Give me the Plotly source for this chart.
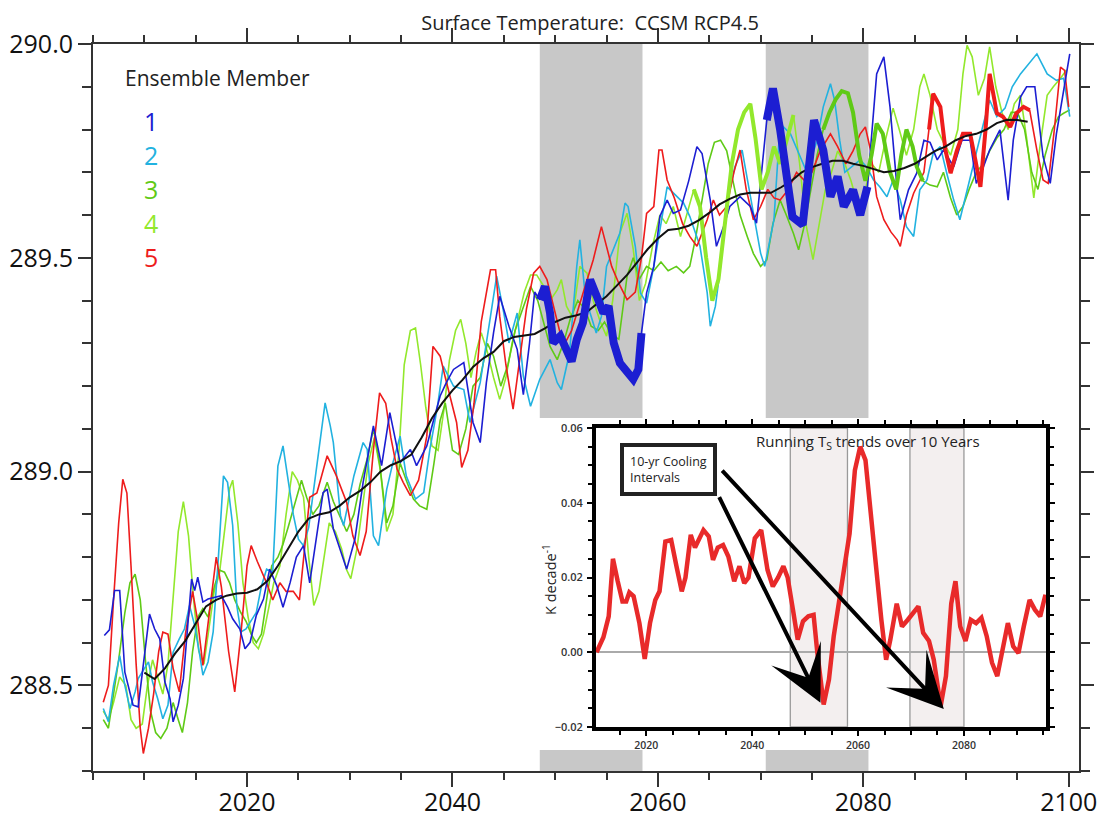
import plotly.graph_objects as go

# ---------------- data: ensemble members (year, surface temperature K) ----------------
m1_years = [2006.1, 2006.6, 2007.1, 2007.6, 2008.1, 2008.9, 2009.4, 2010.0, 2010.5, 2011.0, 2011.5, 2012.0,
            2012.5, 2012.8, 2013.3, 2013.8, 2014.3, 2014.6, 2014.9, 2015.2, 2015.7, 2016.2, 2017.5, 2018.1,
            2018.6, 2019.3, 2019.8, 2020.3, 2020.9, 2021.6, 2022.2, 2022.9, 2023.5, 2024.2, 2024.8, 2025.5,
            2026.1, 2026.8, 2027.4, 2027.8, 2028.4, 2029.7, 2030.5, 2031.3, 2032.3, 2033.1, 2033.9, 2034.9,
            2035.9, 2036.5, 2037.5, 2038.1, 2038.8, 2039.4, 2040.1, 2041.1, 2042.0, 2042.7, 2043.3, 2044.0,
            2044.6, 2045.5, 2046.3, 2046.9, 2047.5, 2048.0, 2048.5, 2049.0, 2049.5, 2049.8, 2050.5, 2051.0,
            2051.6, 2052.1, 2052.7, 2053.4, 2054.0, 2054.7, 2055.2, 2055.7, 2056.3, 2057.0, 2057.6, 2058.1,
            2058.4, 2058.9, 2059.6, 2060.2, 2060.9, 2061.5, 2062.2, 2063.0, 2063.8, 2064.3, 2065.1, 2065.7,
            2066.4, 2067.0, 2068.0, 2069.0, 2069.6, 2070.6, 2071.2, 2071.9, 2072.6, 2073.1, 2074.1, 2074.6,
            2075.2, 2076.1, 2076.8, 2077.5, 2078.1, 2079.0, 2079.7, 2080.4, 2080.8, 2081.3, 2082.0, 2082.6,
            2083.3, 2083.6, 2084.4, 2085.2, 2085.9, 2086.5, 2087.2, 2087.8, 2088.8, 2089.6, 2090.4, 2091.0,
            2091.7, 2092.3, 2093.3, 2094.1, 2094.6, 2095.3, 2095.9, 2096.7, 2097.5, 2098.2, 2098.8, 2099.5,
            2100.1]
m1_vals = [288.617, 288.63, 288.722, 288.722, 288.531, 288.454, 288.45, 288.57, 288.667, 288.632, 288.609, 288.508,
           288.469, 288.415, 288.454, 288.516, 288.656, 288.749, 288.722, 288.753, 288.695, 288.702, 288.71, 288.683,
           288.656, 288.632, 288.586, 288.601, 288.664, 288.702, 288.772, 288.733, 288.683, 288.741, 288.80, 288.827,
           288.74, 288.85, 288.951, 288.959, 288.866, 288.772, 288.842, 288.975, 289.107, 289.014, 289.138, 289.021,
           289.052, 289.014, 289.06, 289.115, 289.177, 289.208, 289.239, 289.255, 289.115, 289.068, 289.208, 289.325,
           289.41, 289.34, 289.286, 289.18, 289.30, 289.42, 289.402, 289.433, 289.371, 289.301, 289.317, 289.293,
           289.258, 289.309, 289.348, 289.449, 289.41, 289.371, 289.387, 289.301, 289.254, 289.231, 289.216, 289.239,
           289.324, 289.418, 289.48, 289.597, 289.635, 289.604, 289.612, 289.68, 289.76, 289.744, 289.635, 289.527,
           289.573, 289.62, 289.643, 289.62, 289.581, 289.822, 289.896, 289.80, 289.682, 289.596, 289.577, 289.682,
           289.822, 289.752, 289.643, 289.69, 289.62, 289.659, 289.60, 289.666, 289.775, 289.93, 289.97, 289.853,
           289.659, 289.589, 289.659, 289.698, 289.775, 289.77, 289.729, 289.752, 289.713, 289.775, 289.775, 289.674,
           289.713, 289.752, 289.799, 289.635, 289.775, 289.876, 289.90, 289.90, 289.737, 289.674, 289.79, 289.892,
           289.977]

m2_years = [2006.0, 2006.5, 2007.0, 2007.6, 2008.1, 2008.6, 2009.1, 2009.4, 2010.4, 2010.8, 2011.3, 2011.8,
            2012.3, 2012.8, 2013.4, 2013.9, 2014.4, 2014.9, 2015.4, 2015.7, 2016.2, 2016.7, 2017.2, 2017.7,
            2018.1, 2018.6, 2019.0, 2019.4, 2019.9, 2020.9, 2021.4, 2021.9, 2022.5, 2023.0, 2023.5, 2024.0,
            2024.5, 2025.0, 2025.5, 2026.0, 2026.8, 2027.6, 2028.1, 2028.4, 2029.1, 2029.4, 2030.4, 2031.3,
            2031.7, 2032.3, 2032.8, 2033.6, 2034.2, 2034.9, 2035.5, 2036.4, 2037.2, 2037.8, 2038.5, 2039.1,
            2040.1, 2041.1, 2041.7, 2042.7, 2043.7, 2044.3, 2045.0, 2045.5, 2046.3, 2046.9, 2047.6, 2048.5,
            2049.5, 2050.2, 2050.6, 2051.4, 2052.1, 2052.4, 2052.9, 2053.4, 2054.0, 2054.5, 2055.0, 2056.3,
            2056.8, 2057.1, 2057.8, 2058.3, 2058.9, 2059.6, 2060.9, 2062.5, 2063.1, 2064.1, 2064.8, 2065.1,
            2065.6, 2066.1, 2066.7, 2067.5, 2068.2, 2069.3, 2070.0, 2070.4, 2071.3, 2071.9, 2072.9, 2074.5,
            2075.5, 2076.1, 2076.8, 2077.2, 2077.7, 2078.2, 2079.7, 2080.3, 2081.0, 2081.6, 2082.3, 2082.9,
            2083.6, 2084.2, 2084.9, 2085.5, 2086.2, 2086.8, 2087.5, 2088.1, 2088.8, 2089.4, 2090.1, 2091.1,
            2091.7, 2092.3, 2093.0, 2093.8, 2094.5, 2095.3, 2096.9, 2097.9, 2098.8, 2099.5, 2100.1]
m2_vals = [288.446, 288.415, 288.50, 288.57, 288.50, 288.446, 288.485, 288.516, 288.555, 288.508, 288.469, 288.422,
           288.454, 288.578, 288.609, 288.632, 288.687, 288.64, 288.57, 288.524, 288.555, 288.625, 288.796, 288.99,
           288.975, 288.874, 288.687, 288.625, 288.632, 288.671, 288.733, 288.772, 288.765, 289.013, 289.06, 288.982,
           288.90, 288.842, 288.827, 288.87, 289.014, 289.161, 289.107, 289.068, 288.897, 288.874, 288.99, 289.068,
           289.052, 288.85, 288.827, 288.959, 289.021, 289.083, 288.99, 288.936, 288.951, 289.052, 289.146, 289.247,
           289.20, 289.192, 289.115, 289.208, 289.363, 289.457, 289.371, 289.301, 289.371, 289.223, 289.153, 289.216,
           289.262, 289.208, 289.192, 289.278, 289.48, 289.542, 289.418, 289.371, 289.324, 289.363, 289.48, 289.558,
           289.628, 289.62, 289.527, 289.418, 289.394, 289.48, 289.666, 289.628, 289.597, 289.527, 289.418, 289.34,
           289.387, 289.48, 289.628, 289.713, 289.752, 289.604, 289.511, 289.48, 289.589, 289.814, 289.79, 289.70,
           289.775, 289.853, 289.907, 289.869, 289.775, 289.70, 289.729, 289.713, 289.682, 289.666, 289.643, 289.682,
           289.635, 289.573, 289.55, 289.659, 289.682, 289.744, 289.76, 289.70, 289.635, 289.589, 289.659, 289.76,
           289.814, 289.869, 289.83, 289.85, 289.90, 289.93, 289.977, 289.93, 289.915, 289.92, 289.83]

m3_years = [2006.0, 2006.5, 2007.0, 2007.5, 2008.1, 2008.6, 2009.1, 2009.6, 2010.1, 2010.6, 2011.1, 2011.6,
            2012.2, 2012.8, 2013.3, 2013.7, 2014.2, 2014.7, 2015.2, 2015.7, 2016.2, 2016.8, 2017.3, 2017.8,
            2018.3, 2018.8, 2019.4, 2019.9, 2020.4, 2020.9, 2021.4, 2021.9, 2022.4, 2023.0, 2023.5, 2024.0,
            2024.6, 2025.3, 2025.8, 2026.4, 2027.0, 2027.8, 2028.4, 2029.1, 2029.7, 2030.4, 2031.0, 2031.7,
            2032.3, 2032.9, 2033.6, 2034.2, 2034.9, 2035.5, 2036.2, 2036.8, 2037.5, 2038.2, 2038.8, 2039.3,
            2040.0, 2040.6, 2041.3, 2042.0, 2042.7, 2043.4, 2044.0, 2044.7, 2045.4, 2046.1, 2046.8, 2047.6,
            2048.3, 2049.0, 2049.5, 2050.2, 2050.8, 2051.5, 2052.2, 2052.9, 2053.5, 2054.2, 2054.8, 2055.5,
            2056.2, 2057.0, 2057.6, 2058.2, 2058.9, 2059.6, 2060.3, 2061.0, 2061.8, 2062.5, 2063.1, 2063.7,
            2064.3, 2064.9, 2065.5, 2066.1, 2066.7, 2067.4, 2068.0, 2068.7, 2069.3, 2070.0, 2070.6, 2071.2,
            2071.9, 2072.5, 2073.2, 2073.7, 2074.3, 2074.9, 2075.5, 2076.1, 2076.7, 2077.3, 2077.9, 2078.5,
            2079.0, 2079.6, 2080.2, 2080.8, 2081.3, 2081.9, 2082.6, 2083.2, 2083.7, 2084.2, 2084.8, 2085.2,
            2085.8, 2086.5, 2087.2, 2087.8, 2088.5, 2089.1, 2089.7, 2090.3, 2091.0, 2091.7, 2092.3, 2093.0,
            2093.7, 2094.4, 2095.0, 2095.7, 2096.4, 2097.0, 2097.7, 2098.4, 2099.0, 2099.5, 2100.1]
m3_vals = [288.42, 288.40, 288.48, 288.56, 288.67, 288.74, 288.76, 288.70, 288.56, 288.44, 288.39, 288.376,
           288.40, 288.46, 288.42, 288.39, 288.46, 288.58, 288.66, 288.68, 288.66, 288.73, 288.77, 288.765,
           288.74, 288.70, 288.67, 288.65, 288.62, 288.60, 288.62, 288.70, 288.78, 288.80, 288.83, 288.87,
           288.92, 288.98, 288.94, 288.90, 288.92, 288.975, 288.93, 288.89, 288.86, 288.90, 288.97, 289.03,
           289.10, 289.02, 288.88, 288.92, 289.02, 288.98, 288.936, 288.92, 288.912, 289.02, 289.12, 289.16,
           289.05, 289.04, 289.10, 289.20, 289.22, 289.30, 289.27, 289.20, 289.25, 289.33, 289.38, 289.433,
           289.40, 289.34, 289.293, 289.262, 289.30, 289.36, 289.40, 289.38, 289.34, 289.33, 289.35, 289.32,
           289.31, 289.457, 289.50, 289.45, 289.48, 289.47, 289.49, 289.47, 289.48, 289.465, 289.48, 289.55,
           289.64, 289.72, 289.77, 289.775, 289.75, 289.67, 289.60, 289.55, 289.51, 289.48, 289.495, 289.58,
           289.635, 289.60, 289.557, 289.519, 289.58, 289.66, 289.74, 289.80, 289.84, 289.87, 289.89, 289.885,
           289.84, 289.74, 289.68, 289.74, 289.814, 289.79, 289.70, 289.66, 289.74, 289.80, 289.76, 289.713,
           289.68, 289.67, 289.666, 289.70, 289.64, 289.60, 289.62, 289.66, 289.70, 289.72, 289.75, 289.78,
           289.80, 289.84, 289.84, 289.80, 289.70, 289.66, 289.74, 289.80, 289.83, 289.838, 289.846]

m4_years = [2006.0, 2006.5, 2007.0, 2007.6, 2008.2, 2008.7, 2009.2, 2009.8, 2010.3, 2010.8, 2011.3, 2011.8,
            2012.3, 2012.8, 2013.3, 2013.8, 2014.3, 2014.8, 2015.3, 2015.8, 2016.3, 2016.8, 2017.3, 2017.8,
            2018.3, 2018.6, 2019.1, 2019.6, 2020.1, 2020.6, 2021.1, 2021.6, 2022.1, 2022.6, 2023.2, 2023.8,
            2024.4, 2024.9, 2025.5, 2026.0, 2026.5, 2027.0, 2027.5, 2028.0, 2028.6, 2029.2, 2029.7, 2030.1,
            2030.7, 2031.3, 2031.8, 2032.4, 2033.0, 2033.6, 2034.2, 2034.8, 2035.3, 2035.9, 2036.4, 2036.9,
            2037.4, 2038.0, 2038.6, 2039.2, 2039.7, 2040.3, 2040.8, 2041.3, 2041.8, 2042.3, 2042.8, 2043.4,
            2044.0, 2044.6, 2045.2, 2045.8, 2046.4, 2047.0, 2047.6, 2048.2, 2048.9, 2049.5, 2050.2, 2050.6,
            2051.1, 2051.7, 2052.4, 2053.1, 2053.7, 2054.4, 2055.0, 2055.6, 2056.3, 2057.0, 2057.6, 2058.2,
            2058.8, 2059.5, 2060.2, 2060.8, 2061.5, 2062.2, 2062.8, 2063.5, 2064.1, 2064.7, 2065.3, 2065.9,
            2066.5, 2067.2, 2067.8, 2068.4, 2069.0, 2069.5, 2070.1, 2070.7, 2071.3, 2071.9, 2072.6, 2073.2,
            2073.8, 2074.4, 2075.1, 2075.7, 2076.3, 2076.9, 2077.5, 2078.2, 2078.8, 2079.5, 2080.2, 2080.8,
            2081.5, 2082.2, 2082.9, 2083.5, 2084.2, 2084.9, 2085.5, 2085.9, 2086.5, 2087.2, 2087.8, 2088.5,
            2089.2, 2089.7, 2090.1, 2090.6, 2091.2, 2091.8, 2092.3, 2092.9, 2093.5, 2094.1, 2094.7, 2095.3,
            2095.9, 2096.6, 2097.2, 2097.9, 2098.5, 2099.2, 2099.8]
m4_vals = [288.44, 288.42, 288.46, 288.52, 288.50, 288.42, 288.40, 288.41, 288.50, 288.56, 288.52, 288.48,
           288.55, 288.70, 288.86, 288.93, 288.85, 288.70, 288.58, 288.55, 288.63, 288.72, 288.76, 288.86,
           288.96, 288.98, 288.88, 288.74, 288.66, 288.60, 288.586, 288.62, 288.68, 288.74, 288.78, 288.90,
           289.00, 288.98, 288.94, 288.80, 288.687, 288.72, 288.80, 288.88, 288.86, 288.82, 288.77, 288.75,
           288.82, 288.93, 289.02, 289.08, 289.00, 288.86, 288.90, 289.05, 289.25, 289.33, 289.336, 289.25,
           289.15, 289.06, 289.05, 289.15, 289.26, 289.33, 289.356, 289.30, 289.22, 289.28, 289.325, 289.28,
           289.22, 289.169, 289.22, 289.30, 289.36, 289.42, 289.46, 289.46, 289.433, 289.40, 289.425, 289.449,
           289.387, 289.36, 289.48, 289.464, 289.40, 289.35, 289.317, 289.40, 289.558, 289.604, 289.52, 289.40,
           289.44, 289.53, 289.60, 289.58, 289.62, 289.55, 289.60, 289.66, 289.62, 289.50, 289.40, 289.45,
           289.58, 289.72, 289.80, 289.84, 289.86, 289.78, 289.66, 289.70, 289.76, 289.72, 289.78, 289.834,
           289.72, 289.58, 289.496, 289.58, 289.66, 289.70, 289.75, 289.72, 289.68, 289.62, 289.66, 289.72,
           289.70, 289.78, 289.85, 289.80, 289.74, 289.80, 289.90, 289.93, 289.88, 289.80, 289.77, 289.74,
           289.80, 289.93, 289.997, 289.97, 289.88, 289.92, 289.993, 289.90, 289.84, 289.80, 289.86, 289.88,
           289.78, 289.64, 289.76, 289.88, 289.90, 289.92, 289.94]

m5_years = [2006.0, 2006.5, 2007.0, 2007.5, 2007.9, 2008.3, 2008.7, 2009.2, 2009.6, 2009.9, 2010.4, 2010.9,
            2011.4, 2011.8, 2012.3, 2012.8, 2013.4, 2014.0, 2014.7, 2015.2, 2015.7, 2016.4, 2017.0, 2017.5,
            2018.2, 2018.8, 2019.4, 2020.0, 2020.4, 2021.0, 2021.9, 2022.5, 2023.2, 2023.8, 2024.5, 2025.1,
            2025.7, 2026.1, 2026.8, 2027.8, 2028.7, 2029.7, 2030.3, 2031.0, 2031.6, 2032.3, 2032.9, 2033.5,
            2034.0, 2034.6, 2035.2, 2035.9, 2036.7, 2037.5, 2038.1, 2038.8, 2039.3, 2039.8, 2040.4, 2040.9,
            2041.5, 2042.1, 2042.8, 2043.7, 2044.2, 2044.6, 2045.2, 2045.9, 2046.5, 2047.2, 2047.9, 2048.5,
            2049.2, 2049.7, 2050.2, 2050.8, 2051.6, 2052.7, 2053.7, 2054.5, 2055.0, 2055.5, 2056.2, 2057.0,
            2057.8, 2058.4, 2058.9, 2059.6, 2060.1, 2060.4, 2060.9, 2061.6, 2062.4, 2063.1, 2063.8, 2064.8,
            2065.4, 2066.0, 2066.7, 2067.4, 2068.0, 2068.6, 2069.3, 2070.0, 2070.7, 2071.3, 2071.9, 2072.7,
            2073.5, 2074.3, 2075.0, 2075.8, 2076.8, 2077.5, 2078.3, 2079.0, 2079.7, 2080.2, 2080.7, 2081.3,
            2082.0, 2082.7, 2083.3, 2083.6, 2084.2, 2084.9, 2085.9, 2086.4, 2086.8, 2087.5, 2088.0, 2088.5,
            2089.1, 2089.7, 2090.4, 2090.9, 2091.4, 2091.9, 2092.3, 2093.0, 2093.6, 2094.3, 2094.9, 2095.6,
            2096.2, 2096.9, 2097.5, 2098.0, 2098.6, 2099.2, 2099.6, 2100.0]
m5_vals = [288.461, 288.50, 288.70, 288.88, 288.982, 288.95, 288.78, 288.55, 288.40, 288.341, 288.40, 288.48,
           288.58, 288.625, 288.62, 288.54, 288.485, 288.62, 288.72, 288.65, 288.547, 288.68, 288.80, 288.73,
           288.58, 288.485, 288.62, 288.78, 288.827, 288.79, 288.74, 288.70, 288.74, 288.72, 288.72, 288.70,
           288.85, 288.94, 288.95, 289.037, 288.99, 288.928, 288.85, 288.804, 288.86, 289.05, 289.184, 289.16,
           289.08, 289.006, 288.975, 288.944, 288.98, 289.083, 289.293, 289.27, 289.22, 289.169, 289.115, 289.01,
           289.05, 289.16, 289.35, 289.472, 289.472, 289.363, 289.25, 289.146, 289.26, 289.38, 289.464, 289.48,
           289.449, 289.40, 289.348, 289.293, 289.33, 289.418, 289.495, 289.573, 289.527, 289.48, 289.44, 289.402,
           289.42, 289.50, 289.604, 289.62, 289.752, 289.752, 289.682, 289.64, 289.58, 289.55, 289.527, 289.589,
           289.635, 289.60, 289.62, 289.70, 289.752, 289.66, 289.589, 289.62, 289.66, 289.64, 289.635, 289.66,
           289.70, 289.68, 289.70, 289.75, 289.79, 289.76, 289.72, 289.75, 289.79, 289.806, 289.752, 289.643,
           289.589, 289.56, 289.542, 289.527, 289.60, 289.651, 289.70, 289.80, 289.884, 289.853, 289.752, 289.698,
           289.75, 289.79, 289.79, 289.73, 289.666, 289.80, 289.93, 289.838, 289.83, 289.806, 289.838, 289.853,
           289.845, 289.752, 289.682, 289.674, 289.80, 289.946, 289.938, 289.853]

mean_years = list(range(2010, 2097))
mean_vals = [288.53, 288.515, 288.54, 288.575, 288.605, 288.645, 288.685, 288.70, 288.71, 288.715,
             288.717, 288.725, 288.745, 288.78, 288.82, 288.86, 288.89, 288.90, 288.905, 288.92,
             288.94, 288.955, 288.975, 289.0, 289.015, 289.025, 289.04, 289.08, 289.125, 289.16,
             289.19, 289.215, 289.245, 289.265, 289.28, 289.305, 289.315, 289.318, 289.322, 289.335,
             289.35, 289.36, 289.365, 289.372, 289.39, 289.41, 289.435, 289.46, 289.49, 289.52,
             289.545, 289.565, 289.568, 289.575, 289.588, 289.605, 289.625, 289.638, 289.648, 289.652,
             289.652, 289.652, 289.665, 289.68, 289.70, 289.712, 289.72, 289.727, 289.727, 289.72,
             289.715, 289.707, 289.70, 289.703, 289.71, 289.72, 289.735, 289.75, 289.76, 289.775,
             289.785, 289.79, 289.80, 289.815, 289.823, 289.822, 289.818]

# ---------------- data: inset running 10-yr trends ----------------
trend_years = [2010.6, 2011.9, 2012.9, 2013.7, 2014.6, 2015.5, 2016.2, 2016.8, 2017.6, 2018.7, 2019.7, 2020.7,
               2021.7, 2022.5, 2023.6, 2024.7, 2025.7, 2026.7, 2027.4, 2028.4, 2029.2, 2029.8, 2030.8, 2031.8,
               2032.6, 2033.5, 2034.5, 2035.5, 2036.6, 2037.6, 2038.5, 2039.3, 2040.5, 2041.7, 2042.9, 2043.9,
               2044.9, 2045.9, 2046.7, 2047.7, 2048.6, 2049.6, 2050.6, 2051.6, 2052.3, 2053.5, 2054.5, 2055.4,
               2056.4, 2057.4, 2058.4, 2059.4, 2060.4, 2061.4, 2062.4, 2063.4, 2064.4, 2065.3, 2066.1, 2067.3,
               2068.3, 2069.4, 2070.3, 2071.4, 2072.3, 2073.4, 2074.3, 2075.6, 2076.6, 2077.6, 2078.4, 2079.3,
               2080.3, 2081.3, 2082.3, 2083.3, 2084.3, 2085.3, 2086.3, 2087.3, 2088.3, 2089.3, 2090.3, 2091.3,
               2092.4, 2093.4, 2094.4, 2095.4]
trend_vals = [0.0, 0.004, 0.0096, 0.025, 0.019, 0.0136, 0.0136, 0.016, 0.015, 0.0078, -0.0018, 0.0078,
              0.014, 0.0163, 0.0296, 0.030, 0.023, 0.0163, 0.020, 0.0314, 0.028, 0.030, 0.0327, 0.031,
              0.0247, 0.028, 0.0287, 0.0256, 0.019, 0.023, 0.0185, 0.020, 0.0305, 0.0327, 0.022, 0.0176,
              0.020, 0.023, 0.020, 0.0114, 0.0034, 0.0083, 0.0096, 0.010, 0.0, -0.014, -0.0073, 0.0043,
              0.014, 0.0238, 0.0318, 0.0487, 0.055, 0.0514, 0.037, 0.022, 0.0087, -0.002, 0.0034, 0.013,
              0.0069, 0.0087, 0.0105, 0.0123, 0.0052, 0.003, -0.002, -0.0144, -0.0064, 0.013, 0.019, 0.0069,
              0.003, 0.0087, 0.0078, 0.0092, 0.0043, -0.0028, -0.0064, 0.0007, 0.0078, 0.0016, -0.0002, 0.0069,
              0.014, 0.0114, 0.0096, 0.0154]

member_labels = ["1", "2", "3", "4", "5"]
member_colors = ["#1c1ed2", "#22b2e0", "#5fca16", "#92e82c", "#ee1c1c"]
cooling_windows_main = [(2048.5, 2058.5), (2070.5, 2080.5)]
cooling_windows_inset = [(2047.2, 2058.0), (2069.8, 2080.0)]

FONT = "Open Sans"


def window(xs, ys, lo, hi):
    px, py = [], []
    for a, b in zip(xs, ys):
        if lo <= a <= hi:
            px.append(a)
            py.append(b)
    return px, py


fig = go.Figure()

members = [(m1_years, m1_vals), (m2_years, m2_vals), (m3_years, m3_vals),
           (m4_years, m4_vals), (m5_years, m5_vals)]
for idx in [3, 2, 1, 4, 0]:
    xs, ys = members[idx]
    fig.add_trace(go.Scatter(x=xs, y=ys, mode="lines", line=dict(color=member_colors[idx], width=1.6),
                             xaxis="x", yaxis="y", showlegend=False, hoverinfo="skip"))

for idx, lo, hi in [(3, 2063.5, 2073.5), (2, 2076.0, 2086.0), (4, 2086.0, 2096.5)]:
    xs, ys = window(members[idx][0], members[idx][1], lo, hi)
    fig.add_trace(go.Scatter(x=xs, y=ys, mode="lines", line=dict(color=member_colors[idx], width=4),
                             xaxis="x", yaxis="y", showlegend=False, hoverinfo="skip"))

fig.add_trace(go.Scatter(x=mean_years, y=mean_vals, mode="lines", line=dict(color="#111111", width=2),
                         xaxis="x", yaxis="y", showlegend=False, hoverinfo="skip"))

for lo, hi in cooling_windows_main:
    xs, ys = window(m1_years, m1_vals, lo, hi + 0.1)
    fig.add_trace(go.Scatter(x=xs, y=ys, mode="lines", line=dict(color=member_colors[0], width=8),
                             xaxis="x", yaxis="y", showlegend=False, hoverinfo="skip"))

# dummy subplot used only to hold the white inset backing
fig.add_trace(go.Scatter(x=[None], y=[None], mode="lines", xaxis="x2", yaxis="y2",
                         showlegend=False, hoverinfo="skip"))

fig.add_trace(go.Scatter(x=trend_years, y=trend_vals, mode="lines", line=dict(color="#e82a2a", width=4.5),
                         xaxis="x3", yaxis="y3", showlegend=False, hoverinfo="skip"))

shapes = []
for lo, hi in cooling_windows_main:
    shapes.append(dict(type="rect", xref="x", yref="y", x0=lo, x1=hi, y0=288.3, y1=290.0,
                       fillcolor="#c8c8c8", line=dict(width=0), layer="below"))
shapes.append(dict(type="rect", xref="x2", yref="y2", x0=0, x1=1, y0=0, y1=1,
                   fillcolor="white", line=dict(width=0), layer="below"))
for lo, hi in cooling_windows_inset:
    shapes.append(dict(type="rect", xref="x3", yref="y3", x0=lo, x1=hi, y0=-0.02, y1=0.06,
                       fillcolor="#f3efef", line=dict(color="#9a9a9a", width=1.3), layer="below"))

# page offset (default body margin) compensation: screen = figure + OFF
OFF = 8
W, H = 1120 - OFF, 817 - OFF
L, R, T, B = 93, 1079, 44, 771          # plot area in screen pixels


def px_x(p):
    return (p - L) / (R - L)


def px_y(p):
    return (B - p) / (B - T)


annotations = [
    dict(text="Ensemble Member", xref="paper", yref="paper", x=px_x(123), y=px_y(78), xanchor="left",
         yanchor="middle", showarrow=False, font=dict(family=FONT, size=21, color="#222")),
]
for i, lab in enumerate(member_labels):
    annotations.append(dict(text=lab, xref="paper", yref="paper", x=px_x(151), y=px_y(121 + 34 * i),
                            xanchor="center", yanchor="middle", showarrow=False,
                            font=dict(family=FONT, size=25, color=member_colors[i])))

annotations += [
    dict(text="Running T<sub>S</sub> trends over 10 Years", xref="paper", yref="paper", x=px_x(868),
         y=px_y(442), xanchor="center", yanchor="middle", showarrow=False,
         font=dict(family=FONT, size=15, color="#222")),
    dict(text="K decade<sup>-1</sup>", xref="paper", yref="paper", x=px_x(549), y=px_y(580),
         xanchor="center", yanchor="middle", showarrow=False, textangle=-90,
         font=dict(family=FONT, size=14.5, color="#222")),
    dict(text="10-yr Cooling<br>Intervals", xref="paper", yref="paper", x=px_x(668), y=px_y(470),
         xanchor="center", yanchor="middle", showarrow=False, align="left",
         bordercolor="#222", borderwidth=4, borderpad=6, bgcolor="white",
         font=dict(family=FONT, size=12.5, color="#222")),
    dict(text="", xref="x3", yref="y3", x=2052.9, y=-0.0135, axref="pixel", ayref="pixel",
         ax=-102, ay=-207, showarrow=True, arrowhead=3, arrowsize=2.3, arrowwidth=4, arrowcolor="black"),
    dict(text="", xref="x3", yref="y3", x=2076.2, y=-0.0152, axref="pixel", ayref="pixel",
         ax=-223, ay=-240, showarrow=True, arrowhead=3, arrowsize=2.3, arrowwidth=4, arrowcolor="black"),
]

axis_common = dict(showgrid=False, zeroline=False, showline=True, linecolor="#333", linewidth=2,
                   mirror="allticks", ticks="outside", tickcolor="#333", tickwidth=1.6, automargin=False)

fig.update_layout(
    width=W, height=H,
    margin=dict(l=L - OFF, r=W - (R - OFF), t=T - OFF, b=H - (B - OFF), autoexpand=False),
    paper_bgcolor="white", plot_bgcolor="rgba(0,0,0,0)",
    showlegend=False,
    title=dict(text="Surface Temperature:  CCSM RCP4.5", xref="container", x=(590 - OFF) / W,
               xanchor="center", yref="container", y=1 - 15 / H, yanchor="middle", pad=dict(t=0, b=0),
               font=dict(family=FONT, size=20, color="#222")),
    xaxis=dict(**axis_common, domain=[0, 1], range=[2005, 2101], tick0=2000, dtick=20, ticklen=14,
               ticklabelstandoff=-6,
               minor=dict(dtick=5, tick0=2000, ticks="outside", ticklen=7, tickcolor="#333", tickwidth=1.6),
               tickfont=dict(family=FONT, size=25, color="#111"), anchor="y"),
    yaxis=dict(**axis_common, domain=[0, 1], range=[288.3, 290.0], tick0=288.5, dtick=0.5, ticklen=13,
               tickformat=".1f",
               minor=dict(dtick=0.1, tick0=288.3, ticks="outside", ticklen=9, tickcolor="#333", tickwidth=1.6),
               tickfont=dict(family=FONT, size=25, color="#111"), anchor="x"),
    xaxis2=dict(domain=[px_x(538), px_x(1062)], range=[0, 1], visible=False, anchor="y2", fixedrange=True),
    yaxis2=dict(domain=[px_y(750), px_y(418)], range=[0, 1], visible=False, anchor="x2", fixedrange=True),
    xaxis3=dict(domain=[px_x(596), px_x(1046)], range=[2010.5, 2095.5], anchor="y3", automargin=False,
                showgrid=False, zeroline=False, showline=True, linecolor="black", linewidth=4,
                mirror="allticks", ticks="outside", ticklen=5, tickwidth=2, tickcolor="black",
                tick0=2000, dtick=20, ticklabelstandoff=0,
                minor=dict(dtick=5, tick0=2000, ticks="outside", ticklen=4, tickwidth=2, tickcolor="black"),
                tickfont=dict(family=FONT, size=10.5, color="#333", weight=600)),
    yaxis3=dict(domain=[px_y(727), px_y(428)], range=[-0.02, 0.06], anchor="x3", automargin=False,
                showgrid=False, zeroline=True, zerolinecolor="#aaaaaa", zerolinewidth=1.5,
                showline=True, linecolor="black", linewidth=4, mirror="allticks",
                ticks="outside", ticklen=5, tickwidth=2, tickcolor="black",
                tick0=0, dtick=0.02, tickformat=".2f", ticklabelstandoff=2,
                minor=dict(dtick=0.005, ticks="outside", ticklen=4, tickwidth=2, tickcolor="black"),
                tickfont=dict(family=FONT, size=11, color="#333", weight=600)),
    shapes=shapes,
    annotations=annotations,
)

fig.write_html("out.html")
